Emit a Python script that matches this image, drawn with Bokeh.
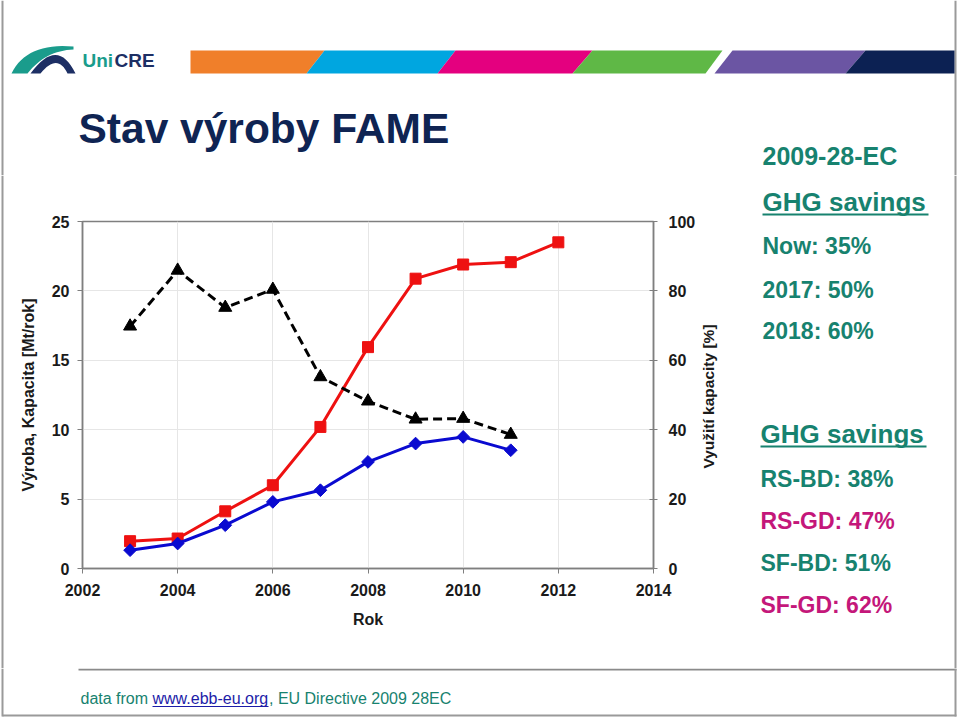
from bokeh.plotting import figure
from bokeh.models import LinearAxis, Range1d, FixedTicker
from bokeh.layouts import column, row
from bokeh.core.properties import value
from bokeh.embed import file_html
from bokeh.resources import INLINE
import math

# ---------------- data ----------------
years_cap = [2003, 2004, 2005, 2006, 2007, 2008, 2009, 2010, 2011, 2012]
kapacita = [1.97, 2.16, 4.12, 6.0, 10.2, 15.95, 20.88, 21.9, 22.07, 23.5]   # Mt/rok
years_prod = [2003, 2004, 2005, 2006, 2007, 2008, 2009, 2010, 2011]
vyroba = [1.32, 1.8, 3.12, 4.8, 5.64, 7.68, 9.0, 9.48, 8.52]               # Mt/rok
vyuziti = [69.8, 85.9, 75.2, 80.4, 55.2, 48.2, 43.0, 43.2, 38.6]           # %

x_ticks = [2002, 2004, 2006, 2008, 2010, 2012, 2014]
y_ticks = [0, 5, 10, 15, 20, 25]
y2_ticks = [0, 20, 40, 60, 80, 100]

title_text = "Stav výroby FAME"
right_texts_top = ["2009-28-EC", "GHG savings", "Now: 35%", "2017: 50%", "2018: 60%"]
right_texts_bottom = ["GHG savings", "RS-BD: 38%", "RS-GD: 47%", "SF-BD: 51%", "SF-GD: 62%"]

FONT = "Liberation Sans"
TEAL = "#17826f"
MAGENTA = "#c4177a"
NAVY = "#0f2453"
BORDER = "#9a9a9a"


def deco_fig(x0, y0, w, h):
    f = figure(width=w, height=h, x_range=Range1d(x0, x0 + w), y_range=Range1d(y0 + h, y0),
               output_backend="svg", toolbar_location=None, min_border=0,
               outline_line_color=None, x_axis_location=None, y_axis_location=None,
               background_fill_color="white", border_fill_color="white",
               frame_align=False)
    f.xgrid.visible = False
    f.ygrid.visible = False
    return f


def txt(f, x, y, text, size, color, style="normal", angle=0.0, align="left"):
    f.text(x=[x], y=[y], text=[text], text_font=value(FONT), text_font_size=size,
           text_font_style=style, text_color=color, angle=angle,
           text_baseline="middle", text_align=align)


def poly(f, pts, color):
    f.patch([a for a, b in pts], [b for a, b in pts], fill_color=color, line_color=None)


def seg(f, x0, y0, x1, y1, color, width=1.5):
    f.segment(x0=[x0], y0=[y0], x1=[x1], y1=[y1], line_color=color, line_width=width)


def qbez(p0, p1, p2, n=16):
    out = []
    for i in range(n + 1):
        t = i / n
        out.append(((1 - t) ** 2 * p0[0] + 2 * (1 - t) * t * p1[0] + t * t * p2[0],
                    (1 - t) ** 2 * p0[1] + 2 * (1 - t) * t * p1[1] + t * t * p2[1]))
    return out


# ---------------- top band: logo, colour stripes, title ----------------
top = deco_fig(0, 0, 960, 175)
seg(top, 2, 0, 2, 175, BORDER, 2)
seg(top, 955, 0, 955, 175, BORDER, 2)
poly(top, [(190, 50), (324, 50), (306, 73), (190, 73)], "#f07f2a")
poly(top, [(324, 50), (455, 50), (437, 73), (306, 73)], "#00a6e0")
poly(top, [(455, 50), (592, 50), (572, 73), (437, 73)], "#e4007f")
poly(top, [(592, 50), (722, 50), (705, 73), (572, 73)], "#5fb846")
poly(top, [(732, 50), (865, 50), (845, 73), (714, 73)], "#6b55a3")
poly(top, [(865, 50), (954, 50), (954, 73), (845, 73)], "#0c2153")
teal_pts = qbez((11, 73), (26, 42), (73, 46)) + qbez((73, 49), (45, 50), (27, 73))
poly(top, teal_pts, "#1a9c8c")
navy_pts = qbez((30, 73), (57, 36), (75, 73)) + qbez((67, 73), (57, 52), (40, 73))
poly(top, navy_pts, "#1d2f64")
txt(top, 82, 60, "Uni", "19px", "#1a9c8c", "bold")
txt(top, 114, 60, "CRE", "19px", "#1d2f64", "bold")
txt(top, 78, 128, title_text, "42.5px", NAVY, "bold")
txt(top, 762, 155, right_texts_top[0], "25px", TEAL, "bold")

# ---------------- left strip (slide border) ----------------
strip = deco_fig(0, 175, 5, 493)
seg(strip, 2, 175, 2, 668, BORDER, 2)

# ---------------- chart ----------------
p = figure(width=693, height=493, output_backend="svg", toolbar_location=None,
           x_range=Range1d(2002, 2014), y_range=Range1d(0, 25),
           min_border_left=77, min_border_right=44, min_border_top=46,
           min_border_bottom=100, background_fill_color="white",
           border_fill_color="white", outline_line_color="#7f7f7f",
           outline_line_width=1.5, frame_align=False)
p.extra_y_ranges = {"pct": Range1d(0, 100)}

ax2 = LinearAxis(y_range_name="pct", ticker=FixedTicker(ticks=y2_ticks))
p.add_layout(ax2, "right")
for ax in [p.xaxis[0], p.yaxis[0], ax2]:
    ax.axis_line_color = "#7f7f7f"
    ax.axis_line_width = 1.5
    ax.major_tick_line_color = "#7f7f7f"
    ax.major_tick_out = 5
    ax.major_tick_in = 0
    ax.minor_tick_line_color = None
    ax.major_label_text_font = FONT
    ax.major_label_text_font_style = "bold"
    ax.major_label_text_font_size = "16px"
    ax.major_label_text_color = "#1a1a1a"
    ax.axis_label_text_font = FONT
    ax.axis_label_text_font_style = "bold"
    ax.axis_label_text_font_size = "16px"
    ax.axis_label_text_color = "#1a1a1a"

p.xaxis[0].ticker = FixedTicker(ticks=x_ticks)
p.xaxis[0].axis_label = "Rok"
p.xaxis[0].major_label_standoff = 10
p.xaxis[0].axis_label_standoff = 12
p.yaxis[0].ticker = FixedTicker(ticks=y_ticks)
p.yaxis[0].axis_label = "Výroba, Kapacita [Mt/rok]"
p.yaxis[0].major_label_standoff = 8
p.yaxis[0].axis_label_standoff = 12
ax2.major_tick_out = 4
ax2.major_tick_in = 4
ax2.major_label_standoff = 11

p.xgrid.ticker = FixedTicker(ticks=x_ticks)
p.ygrid.ticker = FixedTicker(ticks=y_ticks)
p.xgrid.grid_line_color = "#e6e6e6"
p.ygrid.grid_line_color = "#e6e6e6"

p.line(years_cap, kapacita, line_color="#ee1111", line_width=3)
p.scatter(years_cap, kapacita, marker="square", size=11, fill_color="#ee1111",
          line_color="#ee1111")
p.line(years_prod, vyroba, line_color="#0a0ad0", line_width=3)
p.scatter(years_prod, vyroba, marker="square", angle=math.pi / 4, size=9,
          fill_color="#0a0ad0", line_color="#0a0ad0")
p.line(years_prod, vyuziti, y_range_name="pct", line_color="black", line_width=3,
       line_dash="9 5")
p.scatter(years_prod, vyuziti, y_range_name="pct", marker="triangle", size=13,
          fill_color="black", line_color="black")

# ---------------- right text panel ----------------
right = deco_fig(698, 175, 262, 493)
seg(right, 955, 175, 955, 668, BORDER, 2)
txt(right, 708, 396, "Využití kapacity [%]", "15.5px", "#1a1a1a", "bold",
    angle=math.pi / 2, align="center")
top_y = [201, 245, 289, 330]
top_sz = ["26px", "23px", "23px", "23px"]
for t, y, s in zip(right_texts_top[1:], top_y, top_sz):
    txt(right, 762, y, t, s, TEAL, "bold")
seg(right, 762, 214, 928, 214, TEAL, 2)

bot_y = [433, 478, 520, 562, 604]
bot_sz = ["26px", "23px", "23px", "23px", "23px"]
bot_col = [TEAL, TEAL, MAGENTA, TEAL, MAGENTA]
for t, y, s, c in zip(right_texts_bottom, bot_y, bot_sz, bot_col):
    txt(right, 760, y, t, s, c, "bold")
seg(right, 760, 446, 926, 446, TEAL, 2)

# ---------------- footer ----------------
bottom = deco_fig(0, 668, 960, 50)
seg(bottom, 78, 669, 956, 669, "#8a8a8a", 2)
seg(bottom, 2, 668, 2, 716, BORDER, 2)
seg(bottom, 955, 668, 955, 716, BORDER, 2)
seg(bottom, 2, 715, 956, 715, BORDER, 2)
txt(bottom, 80, 698, "data from ", "16px", TEAL)
txt(bottom, 152, 698, "www.ebb-eu.org", "16px", "#1c1ca8")
seg(bottom, 152, 706, 268, 706, "#1c1ca8", 1)
txt(bottom, 268.5, 698, ", EU Directive 2009 28EC", "16px", TEAL)

layout = column(top, row(strip, p, right), bottom)
open("out.html", "w").write(file_html(layout, INLINE))
